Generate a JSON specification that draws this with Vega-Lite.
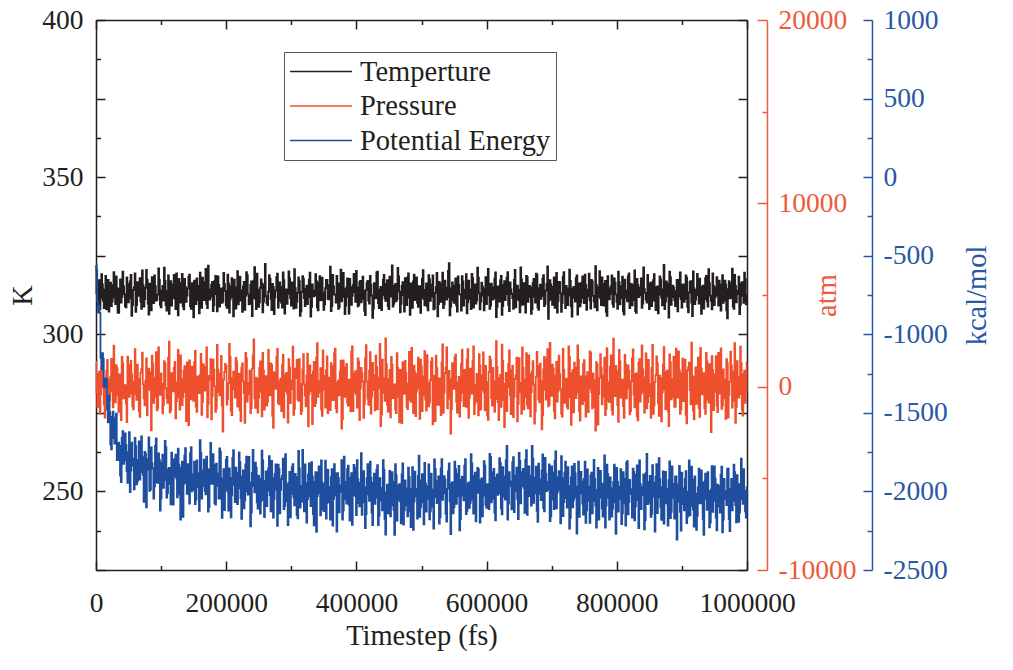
{
  "$schema": "https://vega.github.io/schema/vega-lite/v6.json",
  "width": 651,
  "height": 550,
  "autosize": {"type": "none"},
  "padding": {"left": 96, "top": 20, "right": 266, "bottom": 100},
  "background": "white",
  "config": {
    "font": "Liberation Serif",
    "view": {"stroke": null},
    "axis": {
      "labelFont": "Liberation Serif",
      "titleFont": "Liberation Serif",
      "labelFontSize": 27.5,
      "titleFontSize": 28.5,
      "titleFontWeight": "normal",
      "grid": false,
      "labelFlush": false,
      "labelOverlap": false,
      "labelBound": false,
      "zindex": 1,
      "domainWidth": 1.5,
      "tickWidth": 1.5
    }
  },
  "data": {"values": [
{"t":0,"T":322.0,"P":1350,"E":-560},{"t":2500,"T":309.1,"P":-1120,"E":-790},{"t":5000,"T":317.2,"P":820,"E":-820},{"t":7500,"T":311.4,"P":-420,"E":-1150},{"t":10000,"T":315.9,"P":1780,"E":-1120},{"t":12500,"T":308.3,"P":-980,"E":-1330},{"t":15000,"T":318.6,"P":260,"E":-1280},{"t":17500,"T":312.0,"P":1460,"E":-1480},{"t":20000,"T":307.2,"P":-1560,"E":-1390},{"t":22500,"T":316.4,"P":540,"E":-1700},{"t":25000,"T":310.5,"P":-260,"E":-1525},{"t":27500,"T":319.8,"P":2240,"E":-1660},{"t":30000,"T":309.6,"P":-860,"E":-1530},{"t":32500,"T":314.7,"P":1020,"E":-1800},{"t":35000,"T":306.8,"P":-1380,"E":-1690},{"t":37500,"T":317.5,"P":380,"E":-1900},{"t":40000,"T":311.9,"P":1620,"E":-1660},{"t":42500,"T":315.2,"P":-640,"E":-1825},{"t":45000,"T":308.9,"P":90,"E":-1630},{"t":47500,"T":318.1,"P":-1930,"E":-1870},
{"t":50000,"T":310.2,"P":1180,"E":-1750},{"t":52500,"T":316.8,"P":-380,"E":-2005},{"t":55000,"T":305.9,"P":680,"E":-1690},{"t":57500,"T":314.1,"P":-1240,"E":-1835},{"t":60000,"T":319.4,"P":2050,"E":-1660},{"t":62500,"T":309.4,"P":-720,"E":-1955},{"t":65000,"T":313.3,"P":430,"E":-1800},{"t":67500,"T":317.9,"P":-1650,"E":-1925},{"t":70000,"T":308.1,"P":960,"E":-1650},{"t":72500,"T":315.6,"P":140,"E":-1895},{"t":75000,"T":311.2,"P":-1020,"E":-1748},{"t":77500,"T":320.5,"P":1540,"E":-2101},{"t":80000,"T":309.8,"P":-150,"E":-1794},{"t":82500,"T":316.1,"P":780,"E":-1997},{"t":85000,"T":307.6,"P":-2380,"E":-1720},{"t":87500,"T":314.9,"P":1260,"E":-1854},{"t":90000,"T":318.7,"P":-540,"E":-1968},{"t":92500,"T":310.7,"P":1890,"E":-1662},{"t":95000,"T":312.6,"P":-1170,"E":-1946},{"t":97500,"T":317.3,"P":310,"E":-1800},
{"t":100000,"T":308.6,"P":720,"E":-2045},{"t":102500,"T":315.4,"P":-1460,"E":-1766},{"t":105000,"T":321.2,"P":1400,"E":-1927},{"t":107500,"T":309.3,"P":-90,"E":-1719},{"t":110000,"T":313.8,"P":-880,"E":-2010},{"t":112500,"T":306.5,"P":2460,"E":-1851},{"t":115000,"T":316.9,"P":-1290,"E":-2082},{"t":117500,"T":311.6,"P":570,"E":-1794},{"t":120000,"T":318.9,"P":1030,"E":-1905},{"t":122500,"T":308.0,"P":-1730,"E":-1766},{"t":125000,"T":314.4,"P":240,"E":-2037},{"t":127500,"T":317.6,"P":-560,"E":-1829},{"t":130000,"T":310.1,"P":1710,"E":-2180},{"t":132500,"T":319.2,"P":-1010,"E":-1811},{"t":135000,"T":307.9,"P":860,"E":-1952},{"t":137500,"T":315.1,"P":-300,"E":-1724},{"t":140000,"T":312.3,"P":1320,"E":-2015},{"t":142500,"T":318.3,"P":-2100,"E":-1876},{"t":145000,"T":309.0,"P":500,"E":-1757},{"t":147500,"T":316.3,"P":1090,"E":-1999},
{"t":150000,"T":305.4,"P":-780,"E":-1890},{"t":152500,"T":314.2,"P":1960,"E":-2081},{"t":155000,"T":317.8,"P":-1380,"E":-1802},{"t":157500,"T":310.9,"P":180,"E":-1973},{"t":160000,"T":319.6,"P":640,"E":-1674},{"t":162500,"T":308.4,"P":-1540,"E":-2045},{"t":165000,"T":313.0,"P":1230,"E":-1866},{"t":167500,"T":316.6,"P":-220,"E":-1997},{"t":170000,"T":309.7,"P":2150,"E":-1778},{"t":172500,"T":321.8,"P":-940,"E":-2129},{"t":175000,"T":311.0,"P":370,"E":-1860},{"t":177500,"T":315.8,"P":-1790,"E":-1951},{"t":180000,"T":307.4,"P":1480,"E":-1762},{"t":182500,"T":317.0,"P":20,"E":-2073},{"t":185000,"T":312.8,"P":-1200,"E":-1824},{"t":187500,"T":318.4,"P":930,"E":-1965},{"t":190000,"T":308.8,"P":-480,"E":-1726},{"t":192500,"T":314.6,"P":1680,"E":-2047},{"t":195000,"T":310.4,"P":-2450,"E":-1918},{"t":197500,"T":316.0,"P":800,"E":-2119},
{"t":200000,"T":309.2,"P":1140,"E":-1800},{"t":202500,"T":319.0,"P":-670,"E":-2002},{"t":205000,"T":306.9,"P":2340,"E":-1853},{"t":207500,"T":315.3,"P":-1310,"E":-2165},{"t":210000,"T":311.8,"P":470,"E":-1786},{"t":212500,"T":317.4,"P":-150,"E":-1958},{"t":215000,"T":308.2,"P":1570,"E":-1849},{"t":217500,"T":320.1,"P":-1090,"E":-2081},{"t":220000,"T":310.6,"P":710,"E":-1752},{"t":222500,"T":314.0,"P":-1880,"E":-2044},{"t":225000,"T":307.1,"P":1270,"E":-1905},{"t":227500,"T":316.7,"P":-350,"E":-2107},{"t":230000,"T":312.2,"P":1850,"E":-1828},{"t":232500,"T":318.8,"P":-820,"E":-2000},{"t":235000,"T":309.5,"P":210,"E":-1781},{"t":237500,"T":315.7,"P":-1450,"E":-2223},{"t":240000,"T":305.8,"P":990,"E":-1884},{"t":242500,"T":317.1,"P":2580,"E":-1966},{"t":245000,"T":311.3,"P":-1160,"E":-1817},{"t":247500,"T":319.3,"P":420,"E":-2069},
{"t":250000,"T":308.7,"P":-600,"E":-1900},{"t":252500,"T":314.8,"P":1380,"E":-2141},{"t":255000,"T":316.2,"P":-1620,"E":-1741},{"t":257500,"T":310.3,"P":870,"E":-2052},{"t":260000,"T":322.4,"P":60,"E":-1933},{"t":262500,"T":309.9,"P":-1040,"E":-2094},{"t":265000,"T":313.6,"P":2010,"E":-1854},{"t":267500,"T":317.7,"P":-470,"E":-2025},{"t":270000,"T":307.7,"P":1190,"E":-1806},{"t":272500,"T":315.0,"P":-2250,"E":-2167},{"t":275000,"T":311.7,"P":560,"E":-1888},{"t":277500,"T":318.2,"P":1610,"E":-1988},{"t":280000,"T":308.5,"P":-880,"E":-1829},{"t":282500,"T":316.5,"P":300,"E":-2140},{"t":285000,"T":310.0,"P":-1340,"E":-1921},{"t":287500,"T":319.7,"P":1740,"E":-1792},{"t":290000,"T":306.6,"P":-240,"E":-2092},{"t":292500,"T":314.3,"P":760,"E":-1953},{"t":295000,"T":312.9,"P":-1960,"E":-2214},{"t":297500,"T":317.8,"P":1060,"E":-1875},
{"t":300000,"T":309.1,"P":-140,"E":-2015},{"t":302500,"T":315.5,"P":2190,"E":-1826},{"t":305000,"T":320.7,"P":-1210,"E":-2088},{"t":307500,"T":308.4,"P":460,"E":-1909},{"t":310000,"T":313.2,"P":-700,"E":-2171},{"t":312500,"T":316.9,"P":1500,"E":-1852},{"t":315000,"T":307.3,"P":-1500,"E":-2064},{"t":317500,"T":318.5,"P":940,"E":-1735},{"t":320000,"T":311.5,"P":130,"E":-2127},{"t":322500,"T":314.5,"P":-1080,"E":-1948},{"t":325000,"T":309.6,"P":1800,"E":-2050},{"t":327500,"T":317.4,"P":-410,"E":-1821},{"t":330000,"T":305.6,"P":650,"E":-2093},{"t":332500,"T":315.9,"P":-2050,"E":-1904},{"t":335000,"T":312.1,"P":1360,"E":-2216},{"t":337500,"T":319.1,"P":-900,"E":-1877},{"t":340000,"T":308.6,"P":2370,"E":-2029},{"t":342500,"T":316.4,"P":-320,"E":-1840},{"t":345000,"T":310.8,"P":1010,"E":-2152},{"t":347500,"T":318.0,"P":-1600,"E":-1943},
{"t":350000,"T":307.8,"P":590,"E":-2125},{"t":352500,"T":314.7,"P":-1150,"E":-1804},{"t":355000,"T":317.3,"P":1660,"E":-2072},{"t":357500,"T":311.1,"P":-50,"E":-1971},{"t":360000,"T":321.5,"P":-1280,"E":-2180},{"t":362500,"T":309.0,"P":1120,"E":-1859},{"t":365000,"T":315.2,"P":-740,"E":-2047},{"t":367500,"T":312.7,"P":2080,"E":-1886},{"t":370000,"T":318.6,"P":-1400,"E":-2255},{"t":372500,"T":308.1,"P":350,"E":-1914},{"t":375000,"T":316.1,"P":820,"E":-2002},{"t":377500,"T":310.5,"P":-2290,"E":-1801},{"t":380000,"T":319.5,"P":1440,"E":-2120},{"t":382500,"T":306.4,"P":-560,"E":-1939},{"t":385000,"T":314.9,"P":1240,"E":-2077},{"t":387500,"T":311.9,"P":-1030,"E":-1836},{"t":390000,"T":317.6,"P":190,"E":-2185},{"t":392500,"T":309.4,"P":1920,"E":-1884},{"t":395000,"T":315.6,"P":-1340,"E":-2022},{"t":397500,"T":313.4,"P":730,"E":-1851},
{"t":400000,"T":320.2,"P":-420,"E":-2150},{"t":402500,"T":308.9,"P":1550,"E":-1922},{"t":405000,"T":316.6,"P":-1820,"E":-2095},{"t":407500,"T":310.2,"P":1020,"E":-1757},{"t":410000,"T":318.3,"P":280,"E":-2070},{"t":412500,"T":307.5,"P":-960,"E":-1972},{"t":415000,"T":314.1,"P":2270,"E":-2145},{"t":417500,"T":317.0,"P":-650,"E":-1827},{"t":420000,"T":309.8,"P":880,"E":-2060},{"t":422500,"T":315.8,"P":-1470,"E":-1912},{"t":425000,"T":305.2,"P":1300,"E":-2215},{"t":427500,"T":316.3,"P":-190,"E":-1887},{"t":430000,"T":311.4,"P":1690,"E":-2040},{"t":432500,"T":319.9,"P":-1230,"E":-1832},{"t":435000,"T":308.3,"P":510,"E":-2155},{"t":437500,"T":315.1,"P":-2150,"E":-1977},{"t":440000,"T":312.5,"P":1470,"E":-2120},{"t":442500,"T":318.9,"P":-350,"E":-1862},{"t":445000,"T":310.6,"P":2630,"E":-2275},{"t":447500,"T":317.2,"P":-1000,"E":-1957},
{"t":450000,"T":308.0,"P":400,"E":-2020},{"t":452500,"T":314.6,"P":-1680,"E":-2159},{"t":455000,"T":321.9,"P":1210,"E":-1878},{"t":457500,"T":309.7,"P":-80,"E":-2117},{"t":460000,"T":316.0,"P":-1250,"E":-1826},{"t":462500,"T":311.2,"P":1830,"E":-2185},{"t":465000,"T":318.4,"P":-560,"E":-1964},{"t":467500,"T":307.0,"P":920,"E":-2063},{"t":470000,"T":315.4,"P":-1990,"E":-1892},{"t":472500,"T":312.4,"P":670,"E":-2211},{"t":475000,"T":317.9,"P":1410,"E":-1930},{"t":477500,"T":309.3,"P":-1100,"E":-2089},{"t":480000,"T":319.4,"P":170,"E":-1848},{"t":482500,"T":306.2,"P":-720,"E":-2127},{"t":485000,"T":314.4,"P":2120,"E":-1986},{"t":487500,"T":316.8,"P":-1440,"E":-2245},{"t":490000,"T":310.9,"P":800,"E":-1874},{"t":492500,"T":318.1,"P":-270,"E":-2033},{"t":495000,"T":308.7,"P":1580,"E":-1902},{"t":497500,"T":315.3,"P":-1760,"E":-2161},
{"t":500000,"T":311.6,"P":1100,"E":-1930},{"t":502500,"T":320.4,"P":-460,"E":-2070},{"t":505000,"T":309.2,"P":1940,"E":-1819},{"t":507500,"T":316.2,"P":-1310,"E":-2129},{"t":510000,"T":307.6,"P":230,"E":-1968},{"t":512500,"T":317.5,"P":-870,"E":-2178},{"t":515000,"T":312.0,"P":1350,"E":-1887},{"t":517500,"T":318.7,"P":-2060,"E":-2097},{"t":520000,"T":308.2,"P":610,"E":-1796},{"t":522500,"T":315.0,"P":1700,"E":-2036},{"t":525000,"T":305.7,"P":-1000,"E":-1935},{"t":527500,"T":316.7,"P":450,"E":-2205},{"t":530000,"T":310.3,"P":-1550,"E":-1854},{"t":532500,"T":319.6,"P":2310,"E":-2054},{"t":535000,"T":309.5,"P":-330,"E":-1903},{"t":537500,"T":314.8,"P":1050,"E":-2143},{"t":540000,"T":311.8,"P":-1190,"E":-1982},{"t":542500,"T":322.6,"P":860,"E":-1822},{"t":545000,"T":308.8,"P":-2560,"E":-2271},{"t":547500,"T":316.5,"P":1280,"E":-1941},
{"t":550000,"T":310.0,"P":-120,"E":-2100},{"t":552500,"T":317.8,"P":1750,"E":-1859},{"t":555000,"T":307.2,"P":-1420,"E":-2029},{"t":557500,"T":315.7,"P":540,"E":-1838},{"t":560000,"T":312.6,"P":-780,"E":-2177},{"t":562500,"T":318.5,"P":2020,"E":-1906},{"t":565000,"T":309.1,"P":-1060,"E":-2056},{"t":567500,"T":314.2,"P":330,"E":-1795},{"t":570000,"T":306.7,"P":1490,"E":-2124},{"t":572500,"T":317.1,"P":-1700,"E":-1943},{"t":575000,"T":311.3,"P":990,"E":-2072},{"t":577500,"T":319.2,"P":-380,"E":-1822},{"t":580000,"T":308.5,"P":2200,"E":-2141},{"t":582500,"T":315.9,"P":-920,"E":-1880},{"t":585000,"T":310.7,"P":700,"E":-2009},{"t":587500,"T":318.0,"P":-1570,"E":-1859},{"t":590000,"T":307.9,"P":1160,"E":-2198},{"t":592500,"T":316.4,"P":-200,"E":-1917},{"t":595000,"T":312.3,"P":1870,"E":-2026},{"t":597500,"T":314.6,"P":-1290,"E":-1836},
{"t":600000,"T":309.6,"P":260,"E":-2105},{"t":602500,"T":320.8,"P":-1810,"E":-1953},{"t":605000,"T":308.1,"P":1640,"E":-1761},{"t":607500,"T":316.1,"P":-620,"E":-2069},{"t":610000,"T":311.0,"P":1030,"E":-1877},{"t":612500,"T":317.7,"P":-1380,"E":-2135},{"t":615000,"T":305.5,"P":2480,"E":-1913},{"t":617500,"T":315.2,"P":-850,"E":-2021},{"t":620000,"T":310.4,"P":480,"E":-1789},{"t":622500,"T":318.6,"P":-1110,"E":-2107},{"t":625000,"T":309.0,"P":1420,"E":-1845},{"t":627500,"T":316.9,"P":-2210,"E":-2033},{"t":630000,"T":312.8,"P":760,"E":-1801},{"t":632500,"T":319.8,"P":-40,"E":-2179},{"t":635000,"T":307.4,"P":1980,"E":-1877},{"t":637500,"T":314.3,"P":-1500,"E":-1965},{"t":640000,"T":311.5,"P":1150,"E":-1813},{"t":642500,"T":317.3,"P":-540,"E":-2131},{"t":645000,"T":308.6,"P":620,"E":-1899},{"t":647500,"T":315.5,"P":-1900,"E":-2047},
{"t":650000,"T":310.8,"P":1560,"E":-1755},{"t":652500,"T":321.3,"P":-300,"E":-2076},{"t":655000,"T":309.4,"P":2140,"E":-1877},{"t":657500,"T":316.3,"P":-1240,"E":-1977},{"t":660000,"T":306.9,"P":380,"E":-1798},{"t":662500,"T":318.2,"P":-990,"E":-2149},{"t":665000,"T":311.9,"P":1710,"E":-1840},{"t":667500,"T":314.9,"P":-1620,"E":-2030},{"t":670000,"T":308.0,"P":840,"E":-1711},{"t":672500,"T":317.6,"P":120,"E":-2072},{"t":675000,"T":310.1,"P":-1360,"E":-1913},{"t":677500,"T":319.0,"P":1900,"E":-2123},{"t":680000,"T":307.8,"P":-700,"E":-1824},{"t":682500,"T":315.8,"P":1260,"E":-2015},{"t":685000,"T":312.2,"P":-2330,"E":-1866},{"t":687500,"T":318.8,"P":940,"E":-2106},{"t":690000,"T":309.7,"P":-170,"E":-1787},{"t":692500,"T":316.0,"P":1530,"E":-1998},{"t":695000,"T":304.9,"P":-1070,"E":-1939},{"t":697500,"T":317.2,"P":2390,"E":-2189},
{"t":700000,"T":311.1,"P":-500,"E":-1840},{"t":702500,"T":315.1,"P":1000,"E":-2052},{"t":705000,"T":308.4,"P":-1730,"E":-1805},{"t":707500,"T":319.5,"P":1370,"E":-2107},{"t":710000,"T":310.6,"P":-260,"E":-1910},{"t":712500,"T":316.6,"P":690,"E":-1992},{"t":715000,"T":307.1,"P":-1480,"E":-1775},{"t":717500,"T":318.3,"P":2060,"E":-2157},{"t":720000,"T":312.7,"P":-880,"E":-1880},{"t":722500,"T":315.4,"P":440,"E":-2042},{"t":725000,"T":309.3,"P":-1200,"E":-1845},{"t":727500,"T":320.6,"P":1620,"E":-2237},{"t":730000,"T":308.9,"P":-2090,"E":-1910},{"t":732500,"T":314.5,"P":910,"E":-2102},{"t":735000,"T":311.6,"P":1310,"E":-1825},{"t":737500,"T":317.9,"P":-630,"E":-2037},{"t":740000,"T":306.3,"P":2250,"E":-1970},{"t":742500,"T":316.2,"P":-1350,"E":-2162},{"t":745000,"T":310.2,"P":560,"E":-1875},{"t":747500,"T":318.4,"P":-960,"E":-2077},
{"t":750000,"T":309.9,"P":1450,"E":-1920},{"t":752500,"T":315.6,"P":-1640,"E":-2200},{"t":755000,"T":312.1,"P":790,"E":-1860},{"t":757500,"T":319.3,"P":-110,"E":-2060},{"t":760000,"T":308.2,"P":1860,"E":-1900},{"t":762500,"T":316.8,"P":-1180,"E":-2140},{"t":765000,"T":310.5,"P":350,"E":-1800},{"t":767500,"T":321.7,"P":-2400,"E":-2090},{"t":770000,"T":307.6,"P":1220,"E":-1990},{"t":772500,"T":315.0,"P":-410,"E":-2180},{"t":775000,"T":311.4,"P":1770,"E":-1870},{"t":777500,"T":318.1,"P":-970,"E":-2110},{"t":780000,"T":309.1,"P":600,"E":-1950},{"t":782500,"T":317.0,"P":-1560,"E":-2230},{"t":785000,"T":305.9,"P":2110,"E":-1830},{"t":787500,"T":314.7,"P":-760,"E":-2040},{"t":790000,"T":312.9,"P":1080,"E":-1910},{"t":792500,"T":318.7,"P":-1270,"E":-2160},{"t":795000,"T":308.7,"P":2620,"E":-1940},{"t":797500,"T":316.4,"P":-520,"E":-2070},
{"t":800000,"T":310.3,"P":850,"E":-1850},{"t":802500,"T":319.9,"P":-1920,"E":-2129},{"t":805000,"T":309.5,"P":1390,"E":-1969},{"t":807500,"T":315.3,"P":-230,"E":-2208},{"t":810000,"T":307.3,"P":-1060,"E":-1878},{"t":812500,"T":317.4,"P":1730,"E":-2077},{"t":815000,"T":311.7,"P":-640,"E":-1817},{"t":817500,"T":318.5,"P":1160,"E":-2146},{"t":820000,"T":308.3,"P":-1510,"E":-1926},{"t":822500,"T":316.0,"P":290,"E":-2015},{"t":825000,"T":310.9,"P":2030,"E":-1855},{"t":827500,"T":320.3,"P":-1130,"E":-2184},{"t":830000,"T":306.8,"P":720,"E":-1894},{"t":832500,"T":315.7,"P":-1840,"E":-2053},{"t":835000,"T":312.4,"P":1510,"E":-1803},{"t":837500,"T":317.8,"P":-390,"E":-2112},{"t":840000,"T":309.8,"P":950,"E":-1972},{"t":842500,"T":314.4,"P":-1420,"E":-2241},{"t":845000,"T":311.0,"P":1820,"E":-1881},{"t":847500,"T":318.9,"P":-850,"E":-2080},
{"t":850000,"T":308.0,"P":140,"E":-1940},{"t":852500,"T":316.5,"P":-1700,"E":-2162},{"t":855000,"T":310.7,"P":2280,"E":-1833},{"t":857500,"T":319.1,"P":-1020,"E":-2035},{"t":860000,"T":307.7,"P":630,"E":-1906},{"t":862500,"T":315.2,"P":1270,"E":-2138},{"t":865000,"T":312.6,"P":-1590,"E":-1789},{"t":867500,"T":317.5,"P":470,"E":-2101},{"t":870000,"T":309.2,"P":-310,"E":-1972},{"t":872500,"T":322.1,"P":2160,"E":-2204},{"t":875000,"T":310.4,"P":-1230,"E":-1875},{"t":877500,"T":316.1,"P":880,"E":-2077},{"t":880000,"T":305.3,"P":-2160,"E":-1928},{"t":882500,"T":318.2,"P":1340,"E":-2170},{"t":885000,"T":311.8,"P":-580,"E":-1841},{"t":887500,"T":314.8,"P":1640,"E":-2043},{"t":890000,"T":309.0,"P":-1090,"E":-1904},{"t":892500,"T":317.3,"P":200,"E":-2306},{"t":895000,"T":312.0,"P":1930,"E":-1957},{"t":897500,"T":319.7,"P":-1480,"E":-2129},
{"t":900000,"T":308.5,"P":740,"E":-1880},{"t":902500,"T":315.9,"P":-790,"E":-2081},{"t":905000,"T":311.3,"P":1480,"E":-1921},{"t":907500,"T":318.0,"P":-2000,"E":-2202},{"t":910000,"T":307.0,"P":1060,"E":-2002},{"t":912500,"T":316.7,"P":-190,"E":-2153},{"t":915000,"T":310.1,"P":2410,"E":-1843},{"t":917500,"T":320.0,"P":-1310,"E":-2114},{"t":920000,"T":309.6,"P":520,"E":-1904},{"t":922500,"T":314.1,"P":-940,"E":-2245},{"t":925000,"T":312.5,"P":1590,"E":-1975},{"t":927500,"T":317.7,"P":-1650,"E":-2076},{"t":930000,"T":306.5,"P":980,"E":-1866},{"t":932500,"T":315.5,"P":70,"E":-2177},{"t":935000,"T":311.2,"P":-1190,"E":-1937},{"t":937500,"T":318.6,"P":1850,"E":-2048},{"t":940000,"T":308.8,"P":-710,"E":-1878},{"t":942500,"T":316.3,"P":1230,"E":-2229},{"t":945000,"T":310.6,"P":-2480,"E":-1989},{"t":947500,"T":319.4,"P":900,"E":-2130},
{"t":950000,"T":309.3,"P":-280,"E":-1840},{"t":952500,"T":314.9,"P":1670,"E":-2168},{"t":955000,"T":312.3,"P":-1390,"E":-1957},{"t":957500,"T":317.1,"P":610,"E":-2095},{"t":960000,"T":307.5,"P":2090,"E":-1893},{"t":962500,"T":318.8,"P":-1040,"E":-2261},{"t":965000,"T":310.8,"P":390,"E":-1920},{"t":967500,"T":315.8,"P":-1760,"E":-2048},{"t":970000,"T":305.1,"P":1290,"E":-1856},{"t":972500,"T":316.9,"P":-450,"E":-2174},{"t":975000,"T":311.5,"P":1910,"E":-1983},{"t":977500,"T":320.9,"P":-1150,"E":-2121},{"t":980000,"T":308.1,"P":820,"E":-1829},{"t":982500,"T":315.4,"P":-1980,"E":-2087},{"t":985000,"T":312.8,"P":1400,"E":-1896},{"t":987500,"T":318.3,"P":-600,"E":-2194},{"t":990000,"T":309.4,"P":2190,"E":-1952},{"t":992500,"T":316.6,"P":-1260,"E":-2050},{"t":995000,"T":310.0,"P":690,"E":-1859},{"t":997500,"T":317.6,"P":-880,"E":-2127},
{"t":1000000,"T":312.4,"P":1320,"E":-1975},
{"t":1250,"T":313.0,"P":-310,"E":-590},{"t":3750,"T":316.9,"P":620,"E":-860},{"t":6250,"T":308.0,"P":-1480,"E":-865},{"t":8750,"T":319.1,"P":1090,"E":-1225},{"t":11250,"T":310.6,"P":-70,"E":-1155},{"t":13750,"T":314.2,"P":-1690,"E":-1335},{"t":16250,"T":307.9,"P":880,"E":-1290},{"t":18750,"T":317.3,"P":410,"E":-1560},{"t":21250,"T":312.4,"P":-730,"E":-1495},{"t":23750,"T":309.0,"P":1520,"E":-1732},{"t":26250,"T":315.6,"P":-1130,"E":-1492},{"t":28750,"T":311.7,"P":220,"E":-1695},{"t":31250,"T":318.4,"P":1170,"E":-1505},{"t":33750,"T":306.9,"P":-470,"E":-1800},{"t":36250,"T":314.5,"P":670,"E":-1710},{"t":38750,"T":310.1,"P":-1830,"E":-1940},{"t":41250,"T":319.9,"P":1290,"E":-1617},{"t":43750,"T":312.8,"P":0,"E":-1802},{"t":46250,"T":308.6,"P":-920,"E":-1705},{"t":48750,"T":316.0,"P":1640,"E":-1945},
{"t":51250,"T":311.4,"P":-560,"E":-1622},{"t":53750,"T":318.9,"P":1410,"E":-1867},{"t":56250,"T":309.3,"P":-1080,"E":-1792},{"t":58750,"T":315.0,"P":270,"E":-1987},{"t":61250,"T":307.1,"P":-390,"E":-1712},{"t":63750,"T":316.6,"P":1200,"E":-1937},{"t":66250,"T":312.2,"P":-1330,"E":-1682},{"t":68750,"T":310.5,"P":760,"E":-1877},{"t":71250,"T":320.3,"P":1860,"E":-1782},{"t":73750,"T":308.8,"P":-640,"E":-2066},{"t":76250,"T":314.8,"P":330,"E":-1760},{"t":78750,"T":317.4,"P":-1570,"E":-1862},{"t":81250,"T":306.3,"P":980,"E":-1656},{"t":83750,"T":313.7,"P":-210,"E":-1988},{"t":86250,"T":318.2,"P":1690,"E":-1822},{"t":88750,"T":309.9,"P":-880,"E":-2046},{"t":91250,"T":315.3,"P":500,"E":-1710},{"t":93750,"T":311.0,"P":-1290,"E":-1944},{"t":96250,"T":321.0,"P":2150,"E":-1758},{"t":98750,"T":309.4,"P":-450,"E":-2122},
{"t":101250,"T":314.0,"P":160,"E":-1816},{"t":103750,"T":310.7,"P":-1010,"E":-1977},{"t":106250,"T":317.0,"P":1270,"E":-1678},{"t":108750,"T":307.5,"P":-630,"E":-2039},{"t":111250,"T":318.7,"P":1580,"E":-1860},{"t":113750,"T":312.6,"P":-1410,"E":-1952},{"t":116250,"T":309.1,"P":740,"E":-1753},{"t":118750,"T":315.9,"P":-260,"E":-2084},{"t":121250,"T":311.3,"P":1350,"E":-1796},{"t":123750,"T":319.4,"P":-810,"E":-1917},{"t":126250,"T":306.0,"P":2010,"E":-1728},{"t":128750,"T":316.3,"P":-1260,"E":-2019},{"t":131250,"T":313.1,"P":430,"E":-1850},{"t":133750,"T":308.9,"P":-590,"E":-2162},{"t":136250,"T":317.6,"P":1120,"E":-1773},{"t":138750,"T":310.3,"P":-1880,"E":-1944},{"t":141250,"T":314.6,"P":650,"E":-1826},{"t":143750,"T":319.0,"P":1440,"E":-2077},{"t":146250,"T":308.1,"P":-700,"E":-1718},{"t":148750,"T":312.9,"P":200,"E":-1990},
{"t":151250,"T":317.1,"P":1320,"E":-1811},{"t":153750,"T":309.6,"P":-1110,"E":-2052},{"t":156250,"T":315.4,"P":560,"E":-1883},{"t":158750,"T":306.7,"P":-360,"E":-2124},{"t":161250,"T":312.0,"P":1790,"E":-1755},{"t":163750,"T":318.0,"P":-850,"E":-1966},{"t":166250,"T":310.9,"P":-20,"E":-1797},{"t":168750,"T":320.8,"P":1100,"E":-2018},{"t":171250,"T":308.3,"P":-1670,"E":-1859},{"t":173750,"T":314.3,"P":590,"E":-2100},{"t":176250,"T":311.9,"P":1500,"E":-1691},{"t":178750,"T":316.7,"P":-510,"E":-1952},{"t":181250,"T":309.2,"P":930,"E":-1833},{"t":183750,"T":318.6,"P":-1380,"E":-2084},{"t":186250,"T":307.3,"P":2280,"E":-1885},{"t":188750,"T":315.7,"P":-300,"E":-2046},{"t":191250,"T":312.5,"P":710,"E":-1747},{"t":193750,"T":310.0,"P":-1040,"E":-2168},{"t":196250,"T":319.5,"P":380,"E":-1859},{"t":198750,"T":313.8,"P":1250,"E":-1990},
{"t":201250,"T":308.4,"P":-980,"E":-1781},{"t":203750,"T":316.2,"P":180,"E":-2122},{"t":206250,"T":311.1,"P":1630,"E":-1914},{"t":208750,"T":317.9,"P":-1560,"E":-2025},{"t":211250,"T":305.7,"P":820,"E":-1737},{"t":213750,"T":314.9,"P":-600,"E":-2068},{"t":216250,"T":312.3,"P":1380,"E":-1880},{"t":218750,"T":309.5,"P":-230,"E":-1981},{"t":221250,"T":318.3,"P":-1290,"E":-1813},{"t":223750,"T":310.8,"P":1040,"E":-2174},{"t":226250,"T":315.2,"P":290,"E":-1866},{"t":228750,"T":307.8,"P":-1980,"E":-2057},{"t":231250,"T":319.8,"P":1560,"E":-1779},{"t":233750,"T":312.7,"P":-420,"E":-2020},{"t":236250,"T":309.8,"P":870,"E":-1942},{"t":238750,"T":316.8,"P":-1170,"E":-2133},{"t":241250,"T":311.6,"P":1710,"E":-1735},{"t":243750,"T":321.4,"P":-640,"E":-2006},{"t":246250,"T":308.0,"P":500,"E":-1848},{"t":248750,"T":314.1,"P":-1420,"E":-2109},
{"t":251250,"T":310.2,"P":1030,"E":-1920},{"t":253750,"T":317.5,"P":-280,"E":-2061},{"t":256250,"T":307.0,"P":1850,"E":-1802},{"t":258750,"T":315.8,"P":-1260,"E":-2163},{"t":261250,"T":312.1,"P":580,"E":-1873},{"t":263750,"T":309.3,"P":-820,"E":-1994},{"t":266250,"T":318.8,"P":320,"E":-1775},{"t":268750,"T":311.2,"P":1270,"E":-2126},{"t":271250,"T":316.0,"P":-1590,"E":-1916},{"t":273750,"T":306.4,"P":790,"E":-2047},{"t":276250,"T":313.9,"P":-120,"E":-1828},{"t":278750,"T":319.3,"P":2060,"E":-2219},{"t":281250,"T":310.6,"P":-970,"E":-1859},{"t":283750,"T":315.1,"P":450,"E":-1990},{"t":286250,"T":308.5,"P":1190,"E":-1901},{"t":288750,"T":317.2,"P":-1680,"E":-2112},{"t":291250,"T":312.9,"P":660,"E":-1762},{"t":293750,"T":309.7,"P":-370,"E":-2063},{"t":296250,"T":320.0,"P":1510,"E":-1944},{"t":298750,"T":311.5,"P":-900,"E":-2165},
{"t":301250,"T":316.5,"P":340,"E":-1846},{"t":303750,"T":308.2,"P":-1540,"E":-2037},{"t":306250,"T":314.7,"P":990,"E":-1889},{"t":308750,"T":310.4,"P":1460,"E":-2150},{"t":311250,"T":318.1,"P":-770,"E":-1742},{"t":313750,"T":305.9,"P":150,"E":-2103},{"t":316250,"T":313.5,"P":-1320,"E":-1965},{"t":318750,"T":317.7,"P":1770,"E":-2066},{"t":321250,"T":309.0,"P":-480,"E":-1828},{"t":323750,"T":315.5,"P":620,"E":-2199},{"t":326250,"T":311.8,"P":-2170,"E":-1891},{"t":328750,"T":319.6,"P":1160,"E":-2032},{"t":331250,"T":308.7,"P":-230,"E":-1814},{"t":333750,"T":314.0,"P":820,"E":-2145},{"t":336250,"T":312.4,"P":-1060,"E":-1937},{"t":338750,"T":316.9,"P":1600,"E":-2258},{"t":341250,"T":307.6,"P":-560,"E":-1880},{"t":343750,"T":318.5,"P":310,"E":-2011},{"t":346250,"T":310.9,"P":-1250,"E":-1803},{"t":348750,"T":313.3,"P":1980,"E":-2114},
{"t":351250,"T":309.5,"P":-180,"E":-1954},{"t":353750,"T":317.3,"P":900,"E":-2173},{"t":356250,"T":311.3,"P":-1450,"E":-1862},{"t":358750,"T":315.6,"P":490,"E":-2070},{"t":361250,"T":307.4,"P":1280,"E":-1909},{"t":363750,"T":318.9,"P":-730,"E":-2218},{"t":366250,"T":312.6,"P":1830,"E":-1826},{"t":368750,"T":310.1,"P":-1190,"E":-2025},{"t":371250,"T":316.3,"P":240,"E":-1884},{"t":373750,"T":308.6,"P":-470,"E":-2133},{"t":376250,"T":320.6,"P":1420,"E":-1961},{"t":378750,"T":311.9,"P":-1780,"E":-2180},{"t":381250,"T":314.4,"P":690,"E":-1779},{"t":383750,"T":309.1,"P":1060,"E":-2048},{"t":386250,"T":317.8,"P":-880,"E":-1856},{"t":388750,"T":306.6,"P":380,"E":-2085},{"t":391250,"T":315.0,"P":-1350,"E":-1914},{"t":393750,"T":312.2,"P":2200,"E":-2213},{"t":396250,"T":319.2,"P":-310,"E":-1831},{"t":398750,"T":310.3,"P":850,"E":-2030},
{"t":401250,"T":314.8,"P":-1150,"E":-1801},{"t":403750,"T":309.4,"P":1370,"E":-2074},{"t":406250,"T":317.0,"P":-90,"E":-1946},{"t":408750,"T":311.1,"P":740,"E":-2149},{"t":411250,"T":313.8,"P":-1710,"E":-1871},{"t":413750,"T":306.1,"P":1540,"E":-2234},{"t":416250,"T":316.4,"P":280,"E":-1916},{"t":418750,"T":310.7,"P":-990,"E":-2019},{"t":421250,"T":318.6,"P":1890,"E":-1811},{"t":423750,"T":312.3,"P":-540,"E":-2134},{"t":426250,"T":308.2,"P":630,"E":-1946},{"t":428750,"T":315.9,"P":-1290,"E":-2079},{"t":431250,"T":319.7,"P":1080,"E":-1861},{"t":433750,"T":309.9,"P":-100,"E":-2214},{"t":436250,"T":314.2,"P":2340,"E":-1916},{"t":438750,"T":307.7,"P":-1520,"E":-2059},{"t":441250,"T":317.4,"P":470,"E":-1801},{"t":443750,"T":311.4,"P":-770,"E":-2174},{"t":446250,"T":316.0,"P":1230,"E":-2006},{"t":448750,"T":309.0,"P":-1360,"E":-2139},
{"t":451250,"T":318.3,"P":920,"E":-1870},{"t":453750,"T":312.0,"P":1630,"E":-2089},{"t":456250,"T":308.8,"P":-620,"E":-1938},{"t":458750,"T":315.4,"P":130,"E":-2277},{"t":461250,"T":310.5,"P":-1450,"E":-1896},{"t":463750,"T":321.1,"P":1020,"E":-2055},{"t":466250,"T":313.6,"P":-1950,"E":-1954},{"t":468750,"T":309.7,"P":570,"E":-2203},{"t":471250,"T":316.6,"P":1340,"E":-1822},{"t":473750,"T":307.2,"P":-390,"E":-2121},{"t":476250,"T":314.5,"P":760,"E":-1980},{"t":478750,"T":318.1,"P":-1220,"E":-2159},{"t":481250,"T":311.7,"P":1900,"E":-1908},{"t":483750,"T":316.2,"P":-830,"E":-2227},{"t":486250,"T":308.4,"P":240,"E":-1846},{"t":488750,"T":319.0,"P":1150,"E":-2065},{"t":491250,"T":312.5,"P":-1610,"E":-1984},{"t":493750,"T":310.0,"P":680,"E":-2173},{"t":496250,"T":315.3,"P":-100,"E":-1772},{"t":498750,"T":306.8,"P":1480,"E":-2101},
{"t":501250,"T":317.6,"P":-1340,"E":-1890},{"t":503750,"T":311.2,"P":560,"E":-2209},{"t":506250,"T":314.1,"P":-710,"E":-1949},{"t":508750,"T":308.9,"P":1720,"E":-2048},{"t":511250,"T":318.8,"P":-1070,"E":-1828},{"t":513750,"T":310.6,"P":360,"E":-2127},{"t":516250,"T":315.8,"P":1560,"E":-1987},{"t":518750,"T":307.9,"P":-520,"E":-2236},{"t":521250,"T":313.2,"P":-1880,"E":-1856},{"t":523750,"T":319.5,"P":1010,"E":-2075},{"t":526250,"T":309.6,"P":180,"E":-1905},{"t":528750,"T":316.1,"P":-990,"E":-2164},{"t":531250,"T":312.2,"P":1310,"E":-1794},{"t":533750,"T":308.3,"P":-1430,"E":-2013},{"t":536250,"T":317.1,"P":740,"E":-1923},{"t":538750,"T":311.0,"P":2140,"E":-2192},{"t":541250,"T":320.2,"P":-650,"E":-1872},{"t":543750,"T":306.0,"P":410,"E":-2061},{"t":546250,"T":314.6,"P":-1230,"E":-1951},{"t":548750,"T":310.8,"P":890,"E":-2140},
{"t":551250,"T":315.5,"P":1600,"E":-1810},{"t":553750,"T":309.2,"P":-830,"E":-2079},{"t":556250,"T":318.4,"P":230,"E":-1889},{"t":558750,"T":312.8,"P":-1640,"E":-2248},{"t":561250,"T":307.5,"P":1240,"E":-1927},{"t":563750,"T":316.8,"P":-340,"E":-2027},{"t":566250,"T":311.4,"P":920,"E":-1836},{"t":568750,"T":319.1,"P":-1100,"E":-2145},{"t":571250,"T":310.2,"P":2050,"E":-1954},{"t":573750,"T":314.3,"P":-610,"E":-2104},{"t":576250,"T":308.0,"P":370,"E":-1763},{"t":578750,"T":317.9,"P":1390,"E":-2052},{"t":581250,"T":312.1,"P":-1500,"E":-1901},{"t":583750,"T":309.8,"P":100,"E":-2191},{"t":586250,"T":321.2,"P":-790,"E":-1850},{"t":588750,"T":313.0,"P":1770,"E":-2009},{"t":591250,"T":310.4,"P":-1260,"E":-1928},{"t":593750,"T":315.2,"P":620,"E":-2158},{"t":596250,"T":307.6,"P":-330,"E":-1807},{"t":598750,"T":318.2,"P":1130,"E":-2086},
{"t":601250,"T":312.4,"P":-1570,"E":-1954},{"t":603750,"T":316.0,"P":810,"E":-2112},{"t":606250,"T":309.1,"P":1460,"E":-1780},{"t":608750,"T":314.9,"P":-1030,"E":-2048},{"t":611250,"T":311.5,"P":290,"E":-1856},{"t":613750,"T":319.7,"P":-680,"E":-2184},{"t":616250,"T":308.7,"P":1080,"E":-1892},{"t":618750,"T":313.6,"P":-1820,"E":-2010},{"t":621250,"T":317.2,"P":640,"E":-1818},{"t":623750,"T":306.2,"P":2290,"E":-2146},{"t":626250,"T":315.7,"P":-740,"E":-1904},{"t":628750,"T":310.9,"P":160,"E":-2052},{"t":631250,"T":318.0,"P":-1330,"E":-1710},{"t":633750,"T":309.3,"P":1250,"E":-2078},{"t":636250,"T":316.5,"P":-480,"E":-1936},{"t":638750,"T":312.9,"P":910,"E":-2114},{"t":641250,"T":308.1,"P":-1660,"E":-1782},{"t":643750,"T":320.5,"P":430,"E":-2000},{"t":646250,"T":311.0,"P":1580,"E":-1848},{"t":648750,"T":314.2,"P":-940,"E":-2176},
{"t":651250,"T":307.0,"P":210,"E":-1805},{"t":653750,"T":317.5,"P":-1480,"E":-1966},{"t":656250,"T":312.6,"P":1030,"E":-1857},{"t":658750,"T":309.5,"P":-560,"E":-2137},{"t":661250,"T":318.6,"P":1830,"E":-1738},{"t":663750,"T":310.3,"P":-1190,"E":-2029},{"t":666250,"T":315.4,"P":680,"E":-1900},{"t":668750,"T":306.5,"P":-300,"E":-2090},{"t":671250,"T":316.3,"P":1390,"E":-1791},{"t":673750,"T":312.0,"P":-2020,"E":-2012},{"t":676250,"T":319.3,"P":540,"E":-1842},{"t":678750,"T":308.5,"P":1140,"E":-2193},{"t":681250,"T":314.7,"P":-860,"E":-1924},{"t":683750,"T":311.3,"P":300,"E":-2055},{"t":686250,"T":317.7,"P":-1570,"E":-1765},{"t":688750,"T":309.0,"P":1620,"E":-2126},{"t":691250,"T":313.9,"P":-710,"E":-1887},{"t":693750,"T":321.6,"P":2050,"E":-1988},{"t":696250,"T":310.7,"P":-1000,"E":-1828},{"t":698750,"T":315.9,"P":470,"E":-2159},
{"t":701250,"T":309.4,"P":1210,"E":-1881},{"t":703750,"T":318.1,"P":-1320,"E":-2113},{"t":706250,"T":311.8,"P":600,"E":-1746},{"t":708750,"T":306.9,"P":-820,"E":-2008},{"t":711250,"T":316.7,"P":1700,"E":-1871},{"t":713750,"T":313.1,"P":-150,"E":-2203},{"t":716250,"T":310.0,"P":-1630,"E":-1916},{"t":718750,"T":319.8,"P":930,"E":-2068},{"t":721250,"T":308.3,"P":210,"E":-1811},{"t":723750,"T":314.6,"P":-1090,"E":-2103},{"t":726250,"T":312.3,"P":2200,"E":-1966},{"t":728750,"T":317.0,"P":-590,"E":-2168},{"t":731250,"T":305.6,"P":760,"E":-1841},{"t":733750,"T":315.1,"P":-1400,"E":-2053},{"t":736250,"T":310.4,"P":1070,"E":-1886},{"t":738750,"T":318.7,"P":-330,"E":-2268},{"t":741250,"T":312.8,"P":1480,"E":-1811},{"t":743750,"T":308.9,"P":-1850,"E":-2013},{"t":746250,"T":316.4,"P":390,"E":-1936},{"t":748750,"T":311.6,"P":1260,"E":-2148},
{"t":751250,"T":319.0,"P":-760,"E":-1810},{"t":753750,"T":307.8,"P":560,"E":-2120},{"t":756250,"T":314.2,"P":-1390,"E":-1970},{"t":758750,"T":310.8,"P":1930,"E":-2200},{"t":761250,"T":317.3,"P":-300,"E":-1880},{"t":763750,"T":312.2,"P":720,"E":-2060},{"t":766250,"T":308.6,"P":-1120,"E":-1920},{"t":768750,"T":315.7,"P":1340,"E":-2230},{"t":771250,"T":311.9,"P":-2070,"E":-1850},{"t":773750,"T":320.1,"P":480,"E":-2040},{"t":776250,"T":309.3,"P":1010,"E":-1950},{"t":778750,"T":316.0,"P":-540,"E":-2160},{"t":781250,"T":313.4,"P":1590,"E":-1770},{"t":783750,"T":307.1,"P":-1220,"E":-2090},{"t":786250,"T":318.5,"P":250,"E":-1890},{"t":788750,"T":311.1,"P":-840,"E":-2180},{"t":791250,"T":315.3,"P":1710,"E":-1980},{"t":793750,"T":309.7,"P":-1530,"E":-2110},{"t":796250,"T":317.8,"P":660,"E":-1830},{"t":798750,"T":312.7,"P":1140,"E":-2270},
{"t":801250,"T":308.1,"P":-1010,"E":-1940},{"t":803750,"T":316.6,"P":2010,"E":-2050},{"t":806250,"T":311.5,"P":-600,"E":-1859},{"t":808750,"T":318.3,"P":380,"E":-2139},{"t":811250,"T":306.3,"P":-1700,"E":-1918},{"t":813750,"T":314.0,"P":1220,"E":-2218},{"t":816250,"T":310.5,"P":-110,"E":-1807},{"t":818750,"T":319.4,"P":860,"E":-2067},{"t":821250,"T":312.9,"P":-1340,"E":-1986},{"t":823750,"T":309.2,"P":1540,"E":-2166},{"t":826250,"T":315.6,"P":-430,"E":-1875},{"t":828750,"T":307.4,"P":690,"E":-2095},{"t":831250,"T":317.6,"P":-1620,"E":-1834},{"t":833750,"T":311.8,"P":1300,"E":-2234},{"t":836250,"T":314.8,"P":-820,"E":-1953},{"t":838750,"T":308.4,"P":2250,"E":-2023},{"t":841250,"T":321.3,"P":-280,"E":-1892},{"t":843750,"T":313.2,"P":510,"E":-2182},{"t":846250,"T":310.1,"P":-1180,"E":-1761},{"t":848750,"T":316.2,"P":1460,"E":-2071},
{"t":851250,"T":312.5,"P":-520,"E":-1901},{"t":853750,"T":309.0,"P":1030,"E":-2142},{"t":856250,"T":317.2,"P":-1480,"E":-1944},{"t":858750,"T":310.6,"P":240,"E":-2255},{"t":861250,"T":315.0,"P":1650,"E":-1827},{"t":863750,"T":306.7,"P":-910,"E":-2038},{"t":866250,"T":318.4,"P":600,"E":-1920},{"t":868750,"T":311.7,"P":-1890,"E":-2181},{"t":871250,"T":314.3,"P":1200,"E":-1873},{"t":873750,"T":308.0,"P":-180,"E":-2074},{"t":876250,"T":316.8,"P":800,"E":-1986},{"t":878750,"T":312.1,"P":-1330,"E":-2217},{"t":881250,"T":319.9,"P":1760,"E":-1809},{"t":883750,"T":309.4,"P":-690,"E":-2130},{"t":886250,"T":315.5,"P":420,"E":-1952},{"t":888750,"T":310.9,"P":-1110,"E":-2173},{"t":891250,"T":313.7,"P":2080,"E":-1905},{"t":893750,"T":307.3,"P":-600,"E":-2066},{"t":896250,"T":317.4,"P":910,"E":-1838},{"t":898750,"T":311.2,"P":-1240,"E":-2249},
{"t":901250,"T":315.8,"P":1530,"E":-1980},{"t":903750,"T":310.3,"P":-250,"E":-2121},{"t":906250,"T":318.7,"P":-1540,"E":-1871},{"t":908750,"T":308.7,"P":870,"E":-2162},{"t":911250,"T":313.3,"P":1310,"E":-1802},{"t":913750,"T":316.9,"P":-970,"E":-2093},{"t":916250,"T":305.8,"P":580,"E":-1923},{"t":918750,"T":314.6,"P":-1780,"E":-2224},{"t":921250,"T":311.0,"P":1050,"E":-2014},{"t":923750,"T":319.2,"P":190,"E":-2155},{"t":926250,"T":309.8,"P":-1160,"E":-1855},{"t":928750,"T":315.1,"P":2120,"E":-2076},{"t":931250,"T":312.6,"P":-420,"E":-1946},{"t":933750,"T":308.2,"P":740,"E":-2277},{"t":936250,"T":317.9,"P":-1490,"E":-1887},{"t":938750,"T":310.5,"P":1380,"E":-2118},{"t":941250,"T":320.7,"P":-870,"E":-1998},{"t":943750,"T":312.3,"P":350,"E":-2199},{"t":946250,"T":307.9,"P":1670,"E":-1839},{"t":948750,"T":315.4,"P":-1280,"E":-2060},
{"t":951250,"T":311.8,"P":660,"E":-1919},{"t":953750,"T":318.2,"P":-1050,"E":-2247},{"t":956250,"T":309.1,"P":1840,"E":-1965},{"t":958750,"T":315.9,"P":-380,"E":-2134},{"t":961250,"T":312.7,"P":-1210,"E":-1842},{"t":963750,"T":310.0,"P":950,"E":-2180},{"t":966250,"T":317.1,"P":-640,"E":-1998},{"t":968750,"T":307.6,"P":1510,"E":-2087},{"t":971250,"T":314.4,"P":-1690,"E":-1855},{"t":973750,"T":311.4,"P":260,"E":-2253},{"t":976250,"T":316.3,"P":1150,"E":-1921},{"t":978750,"T":308.8,"P":-790,"E":-2060},{"t":981250,"T":318.9,"P":2380,"E":-1878},{"t":983750,"T":310.2,"P":-1120,"E":-2196},{"t":986250,"T":313.9,"P":530,"E":-1954},{"t":988750,"T":306.4,"P":-410,"E":-2133},{"t":991250,"T":316.1,"P":1290,"E":-1791},{"t":993750,"T":312.2,"P":-1580,"E":-2079},{"t":996250,"T":319.6,"P":880,"E":-1997},{"t":998750,"T":309.5,"P":-170,"E":-2166}
  ]},
  "layer": [
    {
      "mark": {"type": "line", "opacity": 0},
      "encoding": {
        "x": {
          "field": "t", "type": "quantitative",
          "scale": {"domain": [0, 1000000], "nice": false, "zero": false},
          "axis": {
            "orient": "top", "title": null, "labels": false,
            "values": [0, 100000, 200000, 300000, 400000, 500000, 600000, 700000, 800000, 900000, 1000000],
            "domainColor": "#231f20", "tickColor": "#231f20",
            "tickSize": {"condition": {"test": "datum.value % 200000 !== 0", "value": -4.5}, "value": -9}
          }
        },
        "y": {
          "field": "T", "type": "quantitative",
          "scale": {"domain": [225, 400], "nice": false, "zero": false},
          "axis": {
            "orient": "right", "title": null, "labels": false,
            "values": [225, 250, 275, 300, 325, 350, 375, 400],
            "domainColor": "#231f20", "tickColor": "#231f20", "tickSize": -9
          }
        }
      }
    },
    {
      "mark": {"type": "line", "strokeWidth": 1.8, "interpolate": "step"},
      "encoding": {
        "x": {
          "field": "t", "type": "quantitative",
          "scale": {"domain": [0, 1000000], "nice": false, "zero": false},
          "axis": {
            "orient": "bottom", "title": "Timestep (fs)",
            "values": [0, 100000, 200000, 300000, 400000, 500000, 600000, 700000, 800000, 900000, 1000000],
            "labelExpr": "datum.value % 200000 === 0 ? '' + datum.value : ''",
            "labelPadding": 28,
            "labelColor": "#231f20", "titleColor": "#231f20",
            "domainColor": "#231f20", "tickColor": "#231f20",
            "tickSize": {"condition": {"test": "datum.value % 200000 !== 0", "value": -4.5}, "value": -9},
            "titleX": 325.5, "titleY": 74, "titleBaseline": "alphabetic", "titleAlign": "center"
          }
        },
        "y": {
          "field": "T", "type": "quantitative",
          "scale": {"domain": [225, 400], "nice": false, "zero": false},
          "axis": {
            "orient": "left", "title": "K",
            "values": [225, 237.5, 250, 262.5, 275, 287.5, 300, 312.5, 325, 337.5, 350, 362.5, 375, 387.5, 400],
            "labelExpr": "datum.value % 50 === 0 ? '' + datum.value : ''",
            "labelPadding": 22,
            "labelColor": "#231f20", "titleColor": "#231f20",
            "domainColor": "#231f20", "tickColor": "#231f20",
            "tickSize": {"condition": {"test": "datum.value % 25 !== 0", "value": -4.5}, "value": -9},
            "titleX": -74, "titleY": 275, "titleAngle": 270, "titleBaseline": "middle", "titleAlign": "center"
          }
        },
        "color": {
          "datum": "Temperture", "type": "nominal",
          "scale": {"domain": ["Temperture", "Pressure", "Potential Energy"], "range": ["#231f20", "#ee4f2c", "#1f4e9f"]},
          "legend": {
            "orient": "none", "legendX": 188, "legendY": 32, "title": null,
            "symbolType": "M-1,0H3.6", "symbolSize": 729, "symbolStrokeWidth": 1.3,
            "labelFont": "Liberation Serif", "labelFontSize": 28.5, "labelColor": "#231f20",
            "labelOffset": 42, "rowPadding": 5.5, "padding": 5, "labelLimit": 400,
            "strokeColor": "#555555", "fillColor": "white"
          }
        }
      }
    },
    {
      "mark": {"type": "line", "strokeWidth": 1.7, "interpolate": "step"},
      "encoding": {
        "x": {"field": "t", "type": "quantitative", "scale": {"domain": [0, 1000000], "nice": false, "zero": false}, "axis": null},
        "y": {
          "field": "P", "type": "quantitative",
          "scale": {"domain": [-10000, 20000], "nice": false, "zero": false},
          "axis": {
            "orient": "right", "offset": 20, "title": "atm",
            "values": [-10000, -5000, 0, 5000, 10000, 15000, 20000],
            "labelExpr": "datum.value % 10000 === 0 ? '' + datum.value : ''",
            "labelPadding": 21,
            "labelColor": "#ee5a3c", "titleColor": "#ee5a3c",
            "domainColor": "#ee5a3c", "tickColor": "#ee5a3c",
            "tickSize": {"condition": {"test": "datum.value % 10000 !== 0", "value": -5}, "value": -10},
            "titleX": 59, "titleY": 275, "titleAngle": 270, "titleBaseline": "middle", "titleAlign": "center"
          }
        },
        "color": {"datum": "Pressure", "type": "nominal"}
      }
    },
    {
      "mark": {"type": "line", "strokeWidth": 1.8, "interpolate": "step"},
      "encoding": {
        "x": {"field": "t", "type": "quantitative", "scale": {"domain": [0, 1000000], "nice": false, "zero": false}, "axis": null},
        "y": {
          "field": "E", "type": "quantitative",
          "scale": {"domain": [-2500, 1000], "nice": false, "zero": false},
          "axis": {
            "orient": "right", "offset": 125, "title": "kcal/mol",
            "values": [-2500, -2250, -2000, -1750, -1500, -1250, -1000, -750, -500, -250, 0, 250, 500, 750, 1000],
            "labelExpr": "datum.value % 500 === 0 ? '' + datum.value : ''",
            "labelPadding": 20,
            "labelColor": "#2857a4", "titleColor": "#2857a4",
            "domainColor": "#2857a4", "tickColor": "#2857a4",
            "tickSize": {"condition": {"test": "datum.value % 500 !== 0", "value": -5}, "value": -9},
            "titleX": 104, "titleY": 275, "titleAngle": 270, "titleBaseline": "middle", "titleAlign": "center"
          }
        },
        "color": {"datum": "Potential Energy", "type": "nominal"}
      }
    }
  ],
  "resolve": {"scale": {"y": "independent"}, "axis": {"x": "independent"}}
}
